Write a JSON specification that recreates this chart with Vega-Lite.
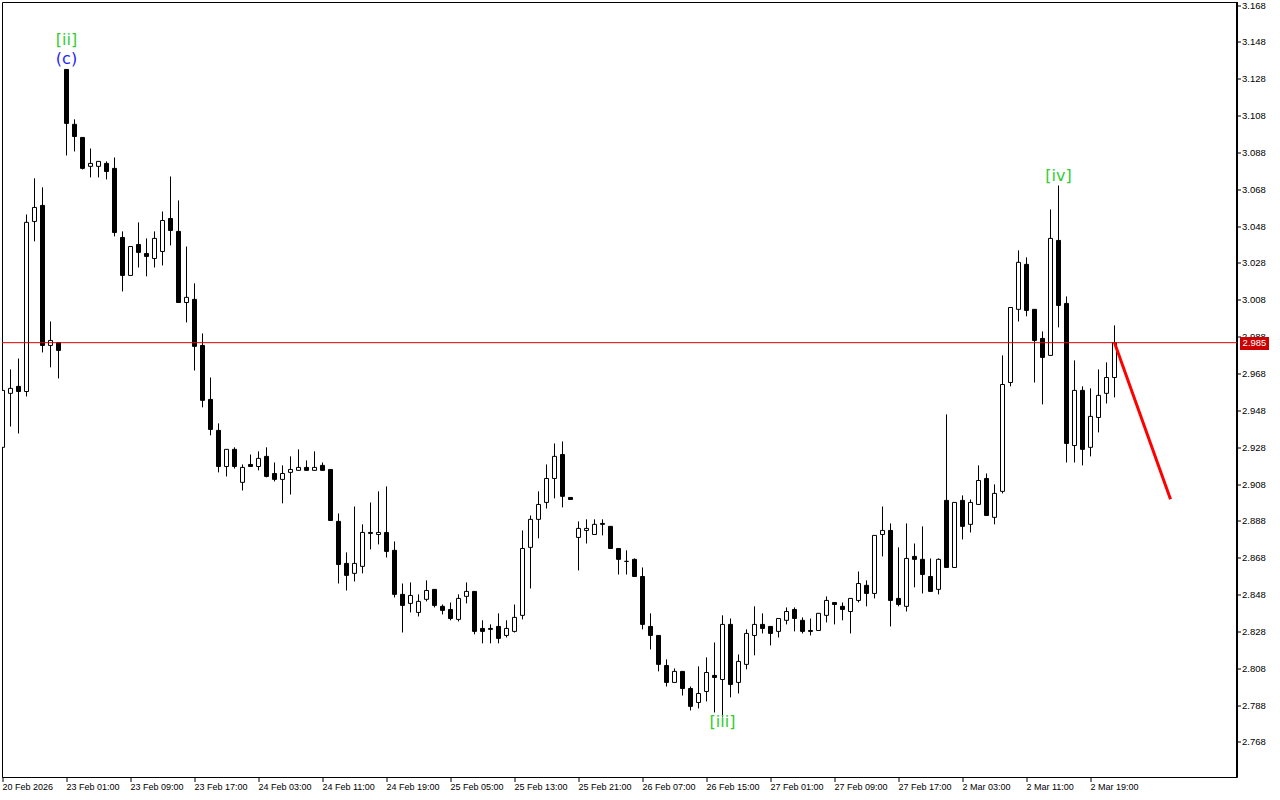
{
  "$schema": "https://vega.github.io/schema/vega-lite/v6.json",
  "width": 1235,
  "height": 775,
  "autosize": {"type": "none"},
  "padding": {"left": 2, "top": 2, "right": 43, "bottom": 23},
  "background": "white",
  "config": {"view": {"stroke": "black", "strokeWidth": 1}, "axis": {"labelOverlap": false}, "scale": {"continuousPadding": 0}},
  "datasets": {
    "candles": [
      {"i":0,"o":2.9282,"h":2.9602,"l":2.9271,"c":2.9591},
      {"i":1,"o":2.9575,"h":2.9705,"l":2.9395,"c":2.9602},
      {"i":2,"o":2.9613,"h":2.9764,"l":2.9357,"c":2.9585},
      {"i":3,"o":2.9585,"h":3.0546,"l":2.9558,"c":3.0503},
      {"i":4,"o":3.0508,"h":3.0742,"l":3.0400,"c":3.0584},
      {"i":5,"o":3.0595,"h":3.0693,"l":2.9797,"c":2.9835},
      {"i":6,"o":2.9835,"h":2.9965,"l":2.9716,"c":2.9862},
      {"i":7,"o":2.9851,"h":2.9851,"l":2.9656,"c":2.9808},
      {"i":8,"o":3.1333,"h":3.1333,"l":3.0866,"c":3.1040},
      {"i":9,"o":3.1035,"h":3.1062,"l":3.0888,"c":3.0969},
      {"i":10,"o":3.0964,"h":3.0964,"l":3.0790,"c":3.0796},
      {"i":11,"o":3.0807,"h":3.0904,"l":3.0747,"c":3.0823},
      {"i":12,"o":3.0807,"h":3.0834,"l":3.0747,"c":3.0834},
      {"i":13,"o":3.0823,"h":3.0834,"l":3.0736,"c":3.0779},
      {"i":14,"o":3.0796,"h":3.0855,"l":3.0427,"c":3.0448},
      {"i":15,"o":3.0421,"h":3.0454,"l":3.0128,"c":3.0215},
      {"i":16,"o":3.0215,"h":3.0372,"l":3.0215,"c":3.0372},
      {"i":17,"o":3.0383,"h":3.0503,"l":3.0258,"c":3.0340},
      {"i":18,"o":3.0334,"h":3.0416,"l":3.0210,"c":3.0318},
      {"i":19,"o":3.0307,"h":3.0454,"l":3.0258,"c":3.0416},
      {"i":20,"o":3.0345,"h":3.0562,"l":3.0269,"c":3.0513},
      {"i":21,"o":3.0524,"h":3.0752,"l":3.0378,"c":3.0459},
      {"i":22,"o":3.0454,"h":3.0622,"l":3.0068,"c":3.0068},
      {"i":23,"o":3.0068,"h":3.0372,"l":2.9960,"c":3.0096},
      {"i":24,"o":3.0085,"h":3.0172,"l":2.9699,"c":2.9830},
      {"i":25,"o":2.9835,"h":2.9900,"l":2.9499,"c":2.9537},
      {"i":26,"o":2.9542,"h":2.9661,"l":2.9347,"c":2.9379},
      {"i":27,"o":2.9374,"h":2.9412,"l":2.9146,"c":2.9178},
      {"i":28,"o":2.9178,"h":2.9271,"l":2.9124,"c":2.9271},
      {"i":29,"o":2.9271,"h":2.9282,"l":2.9167,"c":2.9178},
      {"i":30,"o":2.9092,"h":2.9189,"l":2.9048,"c":2.9173},
      {"i":31,"o":2.9189,"h":2.9243,"l":2.9178,"c":2.9178},
      {"i":32,"o":2.9178,"h":2.9260,"l":2.9157,"c":2.9222},
      {"i":33,"o":2.9233,"h":2.9282,"l":2.9119,"c":2.9124},
      {"i":34,"o":2.9140,"h":2.9200,"l":2.9097,"c":2.9108},
      {"i":35,"o":2.9108,"h":2.9184,"l":2.8978,"c":2.9140},
      {"i":36,"o":2.9146,"h":2.9233,"l":2.9026,"c":2.9162},
      {"i":37,"o":2.9157,"h":2.9271,"l":2.9157,"c":2.9173},
      {"i":38,"o":2.9173,"h":2.9211,"l":2.9157,"c":2.9157},
      {"i":39,"o":2.9157,"h":2.9260,"l":2.9157,"c":2.9173},
      {"i":40,"o":2.9184,"h":2.9200,"l":2.9157,"c":2.9157},
      {"i":41,"o":2.9162,"h":2.9162,"l":2.8885,"c":2.8885},
      {"i":42,"o":2.8880,"h":2.8923,"l":2.8543,"c":2.8646},
      {"i":43,"o":2.8652,"h":2.8712,"l":2.8505,"c":2.8587},
      {"i":44,"o":2.8598,"h":2.8961,"l":2.8554,"c":2.8652},
      {"i":45,"o":2.8636,"h":2.8864,"l":2.8598,"c":2.8820},
      {"i":46,"o":2.8820,"h":2.8983,"l":2.8728,"c":2.8815},
      {"i":47,"o":2.8809,"h":2.9043,"l":2.8755,"c":2.8820},
      {"i":48,"o":2.8820,"h":2.9070,"l":2.8684,"c":2.8717},
      {"i":49,"o":2.8723,"h":2.8771,"l":2.8467,"c":2.8484},
      {"i":50,"o":2.8484,"h":2.8543,"l":2.8277,"c":2.8424},
      {"i":51,"o":2.8435,"h":2.8549,"l":2.8386,"c":2.8478},
      {"i":52,"o":2.8386,"h":2.8484,"l":2.8364,"c":2.8446},
      {"i":53,"o":2.8457,"h":2.8560,"l":2.8446,"c":2.8505},
      {"i":54,"o":2.8511,"h":2.8511,"l":2.8413,"c":2.8424},
      {"i":55,"o":2.8419,"h":2.8429,"l":2.8375,"c":2.8397},
      {"i":56,"o":2.8402,"h":2.8440,"l":2.8343,"c":2.8353},
      {"i":57,"o":2.8348,"h":2.8484,"l":2.8337,"c":2.8462},
      {"i":58,"o":2.8473,"h":2.8549,"l":2.8435,"c":2.8500},
      {"i":59,"o":2.8500,"h":2.8500,"l":2.8267,"c":2.8283},
      {"i":60,"o":2.8299,"h":2.8343,"l":2.8218,"c":2.8283},
      {"i":61,"o":2.8299,"h":2.8321,"l":2.8218,"c":2.8294},
      {"i":62,"o":2.8310,"h":2.8381,"l":2.8218,"c":2.8245},
      {"i":63,"o":2.8261,"h":2.8343,"l":2.8250,"c":2.8299},
      {"i":64,"o":2.8283,"h":2.8429,"l":2.8277,"c":2.8359},
      {"i":65,"o":2.8370,"h":2.8831,"l":2.8348,"c":2.8733},
      {"i":66,"o":2.8739,"h":2.8912,"l":2.8516,"c":2.8891},
      {"i":67,"o":2.8891,"h":2.9043,"l":2.8788,"c":2.8972},
      {"i":68,"o":2.8983,"h":2.9189,"l":2.8950,"c":2.9113},
      {"i":69,"o":2.9113,"h":2.9303,"l":2.9005,"c":2.9233},
      {"i":70,"o":2.9243,"h":2.9314,"l":2.8956,"c":2.9016},
      {"i":71,"o":2.9010,"h":2.9010,"l":2.8999,"c":2.8999},
      {"i":72,"o":2.8793,"h":2.8880,"l":2.8614,"c":2.8842},
      {"i":73,"o":2.8831,"h":2.8891,"l":2.8760,"c":2.8842},
      {"i":74,"o":2.8809,"h":2.8891,"l":2.8809,"c":2.8864},
      {"i":75,"o":2.8869,"h":2.8891,"l":2.8804,"c":2.8864},
      {"i":76,"o":2.8853,"h":2.8853,"l":2.8733,"c":2.8733},
      {"i":77,"o":2.8733,"h":2.8733,"l":2.8592,"c":2.8674},
      {"i":78,"o":2.8663,"h":2.8723,"l":2.8592,"c":2.8663},
      {"i":79,"o":2.8674,"h":2.8679,"l":2.8581,"c":2.8581},
      {"i":80,"o":2.8581,"h":2.8630,"l":2.8294,"c":2.8321},
      {"i":81,"o":2.8310,"h":2.8381,"l":2.8185,"c":2.8261},
      {"i":82,"o":2.8261,"h":2.8261,"l":2.8066,"c":2.8104},
      {"i":83,"o":2.8098,"h":2.8131,"l":2.7984,"c":2.8006},
      {"i":84,"o":2.8006,"h":2.8082,"l":2.8006,"c":2.8066},
      {"i":85,"o":2.8066,"h":2.8066,"l":2.7935,"c":2.7973},
      {"i":86,"o":2.7973,"h":2.7984,"l":2.7854,"c":2.7876},
      {"i":87,"o":2.7897,"h":2.8093,"l":2.7865,"c":2.7946},
      {"i":88,"o":2.7957,"h":2.8142,"l":2.7903,"c":2.8060},
      {"i":89,"o":2.8044,"h":2.8223,"l":2.7843,"c":2.8033},
      {"i":90,"o":2.8022,"h":2.8370,"l":2.7816,"c":2.8321},
      {"i":91,"o":2.8321,"h":2.8353,"l":2.7925,"c":2.7995},
      {"i":92,"o":2.8006,"h":2.8158,"l":2.7946,"c":2.8120},
      {"i":93,"o":2.8104,"h":2.8294,"l":2.8077,"c":2.8272},
      {"i":94,"o":2.8261,"h":2.8419,"l":2.8153,"c":2.8321},
      {"i":95,"o":2.8321,"h":2.8381,"l":2.8272,"c":2.8299},
      {"i":96,"o":2.8310,"h":2.8310,"l":2.8207,"c":2.8272},
      {"i":97,"o":2.8283,"h":2.8353,"l":2.8250,"c":2.8353},
      {"i":98,"o":2.8343,"h":2.8413,"l":2.8321,"c":2.8391},
      {"i":99,"o":2.8402,"h":2.8413,"l":2.8283,"c":2.8353},
      {"i":100,"o":2.8343,"h":2.8359,"l":2.8272,"c":2.8283},
      {"i":101,"o":2.8288,"h":2.8353,"l":2.8261,"c":2.8283},
      {"i":102,"o":2.8288,"h":2.8381,"l":2.8288,"c":2.8381},
      {"i":103,"o":2.8370,"h":2.8473,"l":2.8332,"c":2.8451},
      {"i":104,"o":2.8440,"h":2.8440,"l":2.8321,"c":2.8429},
      {"i":105,"o":2.8419,"h":2.8440,"l":2.8343,"c":2.8402},
      {"i":106,"o":2.8391,"h":2.8462,"l":2.8272,"c":2.8462},
      {"i":107,"o":2.8451,"h":2.8608,"l":2.8440,"c":2.8543},
      {"i":108,"o":2.8533,"h":2.8560,"l":2.8419,"c":2.8489},
      {"i":109,"o":2.8489,"h":2.8804,"l":2.8462,"c":2.8804},
      {"i":110,"o":2.8809,"h":2.8961,"l":2.8690,"c":2.8831},
      {"i":111,"o":2.8831,"h":2.8869,"l":2.8310,"c":2.8451},
      {"i":112,"o":2.8462,"h":2.8739,"l":2.8419,"c":2.8429},
      {"i":113,"o":2.8419,"h":2.8869,"l":2.8391,"c":2.8679},
      {"i":114,"o":2.8690,"h":2.8760,"l":2.8522,"c":2.8674},
      {"i":115,"o":2.8674,"h":2.8853,"l":2.8489,"c":2.8592},
      {"i":116,"o":2.8581,"h":2.8679,"l":2.8500,"c":2.8500},
      {"i":117,"o":2.8511,"h":2.8679,"l":2.8484,"c":2.8674},
      {"i":118,"o":2.8994,"h":2.9461,"l":2.8630,"c":2.8630},
      {"i":119,"o":2.8630,"h":2.8983,"l":2.8630,"c":2.8983},
      {"i":120,"o":2.8994,"h":2.9021,"l":2.8782,"c":2.8853},
      {"i":121,"o":2.8864,"h":2.8999,"l":2.8820,"c":2.8983},
      {"i":122,"o":2.8972,"h":2.9184,"l":2.8972,"c":2.9102},
      {"i":123,"o":2.9113,"h":2.9140,"l":2.8912,"c":2.8912},
      {"i":124,"o":2.8902,"h":2.9081,"l":2.8864,"c":2.9032},
      {"i":125,"o":2.9043,"h":2.9781,"l":2.9032,"c":2.9623},
      {"i":126,"o":2.9634,"h":3.0041,"l":2.9613,"c":3.0041},
      {"i":127,"o":3.0031,"h":3.0351,"l":2.9965,"c":3.0286},
      {"i":128,"o":3.0275,"h":3.0313,"l":2.9993,"c":3.0025},
      {"i":129,"o":3.0031,"h":3.0031,"l":2.9634,"c":2.9862},
      {"i":130,"o":2.9873,"h":2.9911,"l":2.9515,"c":2.9770},
      {"i":131,"o":2.9781,"h":3.0573,"l":2.9781,"c":3.0416},
      {"i":132,"o":3.0405,"h":3.0703,"l":2.9933,"c":3.0052},
      {"i":133,"o":3.0063,"h":3.0101,"l":2.9200,"c":2.9303},
      {"i":134,"o":2.9292,"h":2.9754,"l":2.9200,"c":2.9591},
      {"i":135,"o":2.9591,"h":2.9613,"l":2.9184,"c":2.9271},
      {"i":136,"o":2.9282,"h":2.9602,"l":2.9233,"c":2.9450},
      {"i":137,"o":2.9444,"h":2.9705,"l":2.9363,"c":2.9564},
      {"i":138,"o":2.9575,"h":2.9743,"l":2.9520,"c":2.9661},
      {"i":139,"o":2.9661,"h":2.9944,"l":2.9553,"c":2.9850}
    ],
    "waves": [
      {"i":8,"p":3.1495,"text":"[ii]"},
      {"i":8,"p":3.1390,"text":"(c)"},
      {"i":90,"p":2.7789,"text":"[iii]"},
      {"i":132,"p":3.0757,"text":"[iv]"}
    ],
    "forecast": [
      {"i":139,"p":2.985},
      {"i":146,"p":2.900}
    ],
    "last": [{"p":2.985}]
  },
  "layer": [
    {
      "data": {"name": "candles"},
      "mark": {"type": "rule", "color": "black", "strokeWidth": 1, "clip": true},
      "encoding": {
        "x": {
          "field": "i", "type": "quantitative",
          "scale": {"domain": [-0.0625, 154.3125], "nice": false, "zero": false, "padding": 0},
          "axis": {
            "orient": "bottom",
            "values": [0,8,16,24,32,40,48,56,64,72,80,88,96,104,112,120,128,136],
            "tickCount": 40,
            "labelExpr": "['20 Feb 2026','23 Feb 01:00','23 Feb 09:00','23 Feb 17:00','24 Feb 03:00','24 Feb 11:00','24 Feb 19:00','25 Feb 05:00','25 Feb 13:00','25 Feb 21:00','26 Feb 07:00','26 Feb 15:00','27 Feb 01:00','27 Feb 09:00','27 Feb 17:00','2 Mar 03:00','2 Mar 11:00','2 Mar 19:00'][round(datum.value/8)]",
            "title": null, "grid": false, "domain": false,
            "translate": 0,
            "tickSize": 5, "tickColor": "black", "tickWidth": 1,
            "labelAlign": "left", "labelBaseline": "top", "labelPadding": 1,
            "labelFont": "Liberation Sans", "labelFontSize": 9, "labelColor": "black",
            "labelOverlap": false, "labelFlush": false, "labelBound": false
          }
        },
        "y": {
          "field": "l", "type": "quantitative",
          "scale": {"domain": [2.749275, 3.1699], "nice": false, "zero": false, "padding": 0},
          "axis": {
            "orient": "right",
            "values": [2.768,2.788,2.808,2.828,2.848,2.868,2.888,2.908,2.928,2.948,2.968,2.988,3.008,3.028,3.048,3.068,3.088,3.108,3.128,3.148,3.168],
            "tickCount": 40,
            "format": ".3f",
            "title": null, "grid": false,
            "translate": 0,
            "domain": true, "domainColor": "black", "domainWidth": 2,
            "tickSize": 4, "tickColor": "black", "tickWidth": 1,
            "labelAlign": "left", "labelBaseline": "middle", "labelPadding": 1,
            "labelFont": "Liberation Sans", "labelFontSize": 9.5, "labelColor": "black",
            "labelOverlap": false, "labelFlush": false, "labelBound": false
          }
        },
        "y2": {"field": "h"}
      }
    },
    {
      "data": {"name": "candles"},
      "mark": {"type": "bar", "size": 4, "stroke": "black", "strokeWidth": 1, "clip": true},
      "encoding": {
        "x": {"field": "i", "type": "quantitative"},
        "y": {"field": "o", "type": "quantitative"},
        "y2": {"field": "c"},
        "fill": {"condition": {"test": "datum.c < datum.o", "value": "black"}, "value": "white"}
      }
    },
    {
      "data": {"name": "last"},
      "mark": {"type": "rule", "color": "#dd0000", "strokeWidth": 1},
      "encoding": {"y": {"field": "p", "type": "quantitative"}}
    },
    {
      "data": {"name": "forecast"},
      "mark": {"type": "line", "color": "#ff0000", "strokeWidth": 3, "clip": false},
      "encoding": {
        "x": {"field": "i", "type": "quantitative"},
        "y": {"field": "p", "type": "quantitative"}
      }
    },
    {
      "data": {"name": "waves"},
      "mark": {"type": "text", "font": "DejaVu Sans", "fontSize": 16, "align": "center", "baseline": "middle"},
      "encoding": {
        "x": {"field": "i", "type": "quantitative"},
        "y": {"field": "p", "type": "quantitative"},
        "text": {"field": "text"},
        "color": {"condition": {"test": "datum.text == '(c)'", "value": "#1e1eff"}, "value": "#32cd32"}
      }
    },
    {
      "data": {"name": "last"},
      "mark": {"type": "rect", "color": "#cc0000", "opacity": 1, "clip": false},
      "encoding": {
        "x": {"datum": 154.6875},
        "x2": {"datum": 158.3125},
        "y": {"datum": 2.98808},
        "y2": {"datum": 2.98103}
      }
    },
    {
      "data": {"name": "last"},
      "mark": {"type": "text", "color": "white", "font": "Liberation Sans", "fontSize": 9.5, "align": "center", "baseline": "middle", "clip": false},
      "encoding": {
        "x": {"datum": 156.5},
        "y": {"field": "p", "type": "quantitative"},
        "text": {"field": "p", "type": "quantitative", "format": ".3f"}
      }
    }
  ]
}
